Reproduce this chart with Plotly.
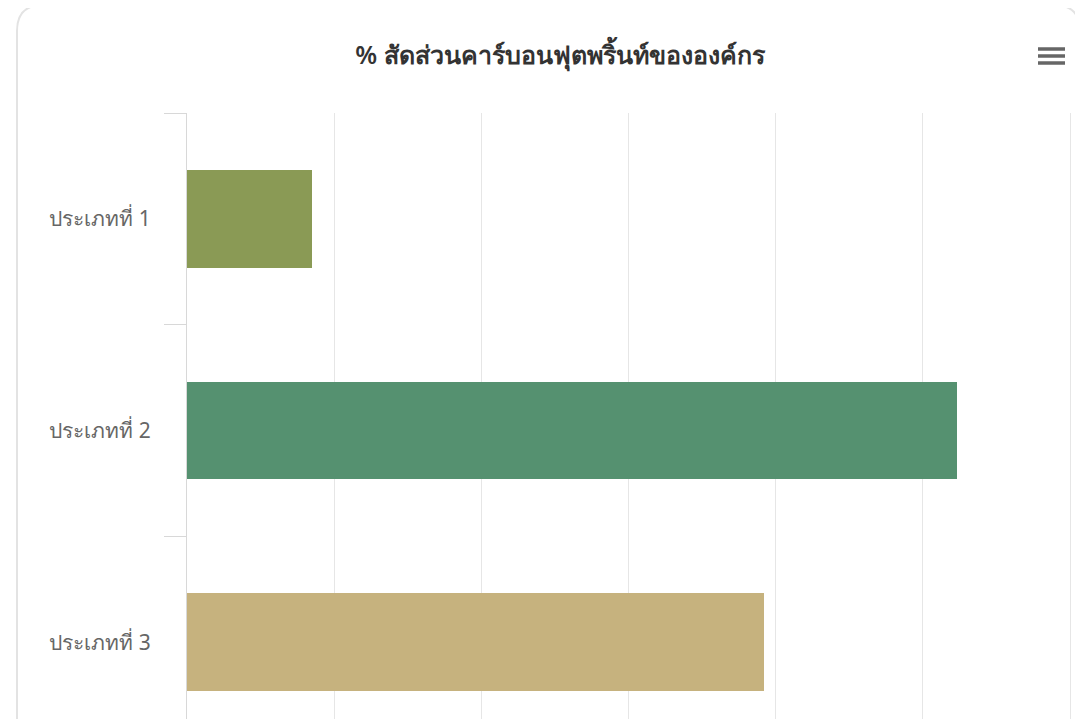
import plotly.graph_objects as go

# carbon footprint share by scope (%)
categories = ["ประเภทที่ 1", "ประเภทที่ 2", "ประเภทที่ 3"]
values = [8.5, 52.3, 39.2]
colors = ["#8a9a55", "#559170", "#c6b27e"]
title = "% สัดส่วนคาร์บอนฟุตพริ้นท์ขององค์กร"

# the page body adds an 8px offset, so work in page pixels minus 8
OFF = 8
W, H = 1083 - OFF, 719 - OFF
ML, MR, MT, MB = 187 - OFF, 9, 113 - OFF, 0
pw, ph = W - ML - MR, H - MT - MB
xmax = 60 * pw / (pw - 4)  # leave room so the 60 gridline shows

fig = go.Figure()
fig.add_trace(go.Bar(
    x=values,
    y=categories,
    orientation="h",
    marker=dict(color=colors, line=dict(width=0)),
    width=0.46,
    hoverinfo="x+y",
))

# page pixel -> paper helpers for the decorations
def px(x):
    return (x - OFF - ML) / pw

def py(y):
    return 1 - (y - OFF - MT) / ph

# rounded card border
r = 26
x0, y0, x1, y1 = 17, 5, 1080, 760
path = (f"M {px(x0)},{py(y0 + r)} "
        f"Q {px(x0)},{py(y0)} {px(x0 + r)},{py(y0)} "
        f"L {px(x1 - r)},{py(y0)} "
        f"Q {px(x1)},{py(y0)} {px(x1)},{py(y0 + r)} "
        f"L {px(x1)},{py(y1)} L {px(x0)},{py(y1)} Z")
shapes = [dict(type="path", path=path, xref="paper", yref="paper",
               line=dict(color="#e3e3e3", width=2), layer="below")]

# hamburger menu icon
for yy in (49, 56, 63):
    shapes.append(dict(type="line", xref="paper", yref="paper",
                       x0=px(1038), x1=px(1065), y0=py(yy), y1=py(yy),
                       line=dict(color="#666666", width=3.5)))

fig.update_layout(
    width=W, height=H,
    margin=dict(l=ML, r=MR, t=MT, b=MB),
    paper_bgcolor="white",
    plot_bgcolor="white",
    showlegend=False,
    bargap=0,
    title=dict(text=title, xref="container", x=(560 - OFF) / W, xanchor="center",
               yref="container", y=1 - (55 - OFF) / H, yanchor="middle",
               font=dict(family="Noto Sans, sans-serif", size=25, color="#333333",
                         weight=600)),
    xaxis=dict(
        range=[0, xmax], dtick=10,
        showgrid=True, gridcolor="#e6e6e6", gridwidth=1,
        zeroline=False, showticklabels=False, showline=False,
    ),
    yaxis=dict(
        type="category",
        range=[2.363, -0.5],
        tickson="boundaries",
        ticks="outside", ticklen=22, tickcolor="#d8d8d8", tickwidth=1,
        ticklabelstandoff=31,
        showline=True, linecolor="#d8d8d8", linewidth=1,
        showgrid=False, zeroline=False,
        tickfont=dict(family="Noto Sans, sans-serif", size=21, color="#666666"),
    ),
    shapes=shapes,
)

fig.write_html("out.html")
